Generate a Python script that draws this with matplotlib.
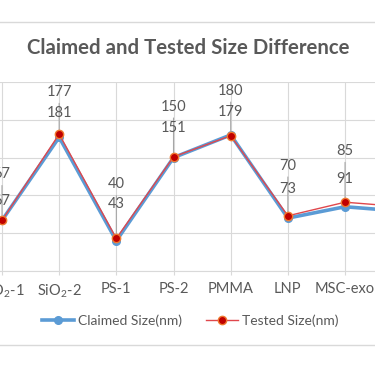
import matplotlib
matplotlib.use('Agg')
import matplotlib.pyplot as plt
from matplotlib.lines import Line2D

plt.rcParams['font.family'] = ['Lato', 'DejaVu Sans']
plt.rcParams['mathtext.fontset'] = 'custom'
plt.rcParams['mathtext.rm'] = 'Lato'

# data (last category sits just past the right edge)
categories = [r'SiO$_\mathregular{2}$-1', r'SiO$_\mathregular{2}$-2', 'PS-1', 'PS-2',
              'PMMA', 'LNP', 'MSC-exo', 'MSC-exo-2']
claimed = [67, 177, 40, 150, 180, 70, 85, 79]
tested = [67, 181, 43, 151, 179, 73, 91, 85]

# label offsets above the point, in pixels (claimed label, tested label)
top_off = [46, 42, 54, 50, 44, 50, 51, 48]
low_off = [19, 21, 34, 29, 23, 27, 23, 25]

TXT = '#595959'
GRID = '#D9D9D9'

fig = plt.figure(figsize=(3.75, 3.66), dpi=100)
ax = fig.add_axes([0, 1 - 271 / 366, 1, (271 - 82) / 366])

x = list(range(len(categories)))
ax.plot(x, claimed, color='#5B9BD5', lw=2.6, marker='o', ms=5.5,
        markerfacecolor='#5B9BD5', markeredgecolor='#5B9BD5', label='Claimed Size(nm)', zorder=3)
ax.plot(x, tested, color='#E0474C', lw=1.0, marker='o', ms=6,
        markerfacecolor='#C00000', markeredgecolor='#F07A30', markeredgewidth=1.0,
        label='Tested Size(nm)', zorder=4)

px = 0.72  # points per pixel
for i in x:
    top = max(claimed[i], tested[i])
    ax.annotate(str(claimed[i]), xy=(i, top), xytext=(0, top_off[i] * px),
                textcoords='offset points', ha='center', va='center',
                fontsize=10.5, color=TXT, annotation_clip=False,
                arrowprops=dict(arrowstyle='-', color='#A6A6A6', lw=0.8,
                                shrinkA=1, shrinkB=0))
    ax.annotate(str(tested[i]), xy=(i, top), xytext=(0, low_off[i] * px),
                textcoords='offset points', ha='center', va='center',
                fontsize=10.5, color=TXT, annotation_clip=False)

ax.set_ylim(0, 250)
ax.set_yticks(range(0, 251, 50))
ax.set_xticks(x)
ax.set_xticklabels(categories)
ax.set_xlim(-0.035, 6.524)
ax.grid(True, color=GRID, lw=0.8)
ax.set_axisbelow(True)
for s in ['top', 'left', 'right']:
    ax.spines[s].set_visible(False)
ax.spines['bottom'].set_color(GRID)
ax.spines['bottom'].set_linewidth(0.8)
ax.tick_params(axis='x', length=3, color=GRID, pad=5, labelsize=10.5, labelcolor=TXT)
ax.tick_params(axis='y', left=False, labelleft=False)

fig.text(0.502, 1 - 48 / 366, 'Claimed and Tested Size Difference', ha='center', va='center',
         fontsize=14.7, fontweight='bold', color=TXT)

fig.legend(loc='center', bbox_to_anchor=(0.507, 1 - 321 / 366), ncol=2, frameon=False,
           fontsize=10, labelcolor=TXT, handlelength=2.3, handletextpad=0.3,
           columnspacing=1.7)

for yy in [1 - 22 / 366, 1 - 345 / 366]:
    fig.add_artist(Line2D([0, 1], [yy, yy], color=GRID, lw=1.0, transform=fig.transFigure))

fig.savefig('out.png', dpi=100)
